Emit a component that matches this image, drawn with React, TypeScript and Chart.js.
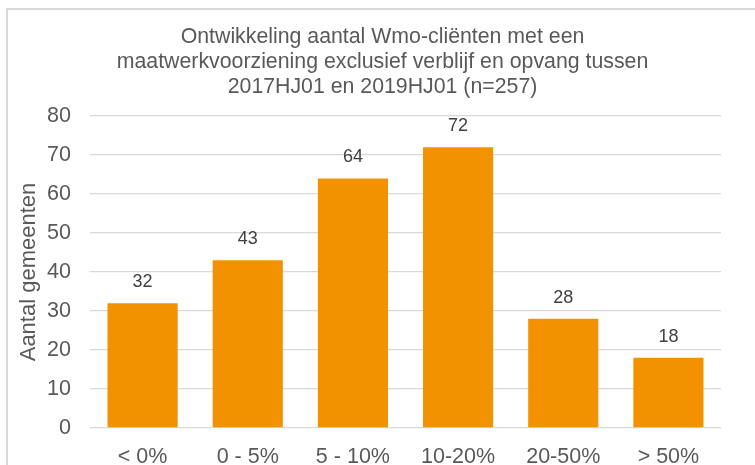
import React, { useEffect, useRef } from "react";
import { Chart, registerables } from "chart.js";

Chart.register(...registerables);

const categories = ["< 0%", "0 - 5%", "5 - 10%", "10-20%", "20-50%", "> 50%"];
const values = [32, 43, 64, 72, 28, 18];
const titleLines = [
  "Ontwikkeling aantal Wmo-cliënten met een",
  "maatwerkvoorziening exclusief verblijf en opvang tussen",
  "2017HJ01 en 2019HJ01 (n=257)",
];
const yAxisTitle = "Aantal gemeenten";

const FONT = "'Liberation Sans', Arial, sans-serif";
const TEXT = "#595959";

const frame = {
  id: "frame",
  beforeDraw(chart: any) {
    const ctx = chart.ctx;
    ctx.save();
    ctx.fillStyle = "#ffffff";
    ctx.fillRect(0, 0, chart.width, chart.height);
    ctx.fillStyle = "#d9d9d9";
    ctx.fillRect(6, 8, chart.width - 6, 2);
    ctx.fillRect(6, 8, 2, chart.height - 8);
    ctx.restore();
  },
};

const titleDraw = {
  id: "titleDraw",
  afterDraw(chart: any) {
    const ctx = chart.ctx;
    ctx.save();
    ctx.font = `21.3px ${FONT}`;
    ctx.fillStyle = TEXT;
    ctx.textAlign = "center";
    ctx.textBaseline = "middle";
    titleLines.forEach((line, i) => {
      ctx.fillText(line, 382.5, 37.5 + i * 25);
    });
    ctx.restore();
  },
};

const dataLabels = {
  id: "dataLabels",
  afterDatasetsDraw(chart: any) {
    const ctx = chart.ctx;
    const meta = chart.getDatasetMeta(0);
    ctx.save();
    ctx.font = `18px ${FONT}`;
    ctx.fillStyle = "#404040";
    ctx.textAlign = "center";
    ctx.textBaseline = "middle";
    meta.data.forEach((bar: any, i: number) => {
      ctx.fillText(String(values[i]), bar.x, bar.y - 21);
    });
    ctx.restore();
  },
};

export default function App() {
  const ref = useRef<HTMLCanvasElement>(null);
  useEffect(() => {
    if (!ref.current) return;
    const chart = new Chart(ref.current, {
      type: "bar",
      data: {
        labels: categories,
        datasets: [
          {
            data: values,
            backgroundColor: "#F39200",
            borderWidth: 0,
            barPercentage: 0.667,
            categoryPercentage: 1,
          },
        ],
      },
      options: {
        responsive: false,
        animation: false,
        devicePixelRatio: 1,
        layout: { padding: { left: 16, right: 34, top: 116, bottom: 0 } },
        plugins: {
          legend: { display: false },
          tooltip: { enabled: false },
          title: { display: false },
        },
        scales: {
          x: {
            grid: { display: false },
            border: { display: false },
            ticks: {
              color: TEXT,
              font: { family: FONT, size: 21.5 },
              padding: 8,
              maxRotation: 0,
            },
            afterFit: (s: any) => {
              s.height = 37;
            },
          },
          y: {
            min: 0,
            max: 80,
            ticks: {
              stepSize: 10,
              color: TEXT,
              font: { family: FONT, size: 21.5 },
              padding: 19,
            },
            grid: { color: "#d9d9d9", lineWidth: 1.3, drawTicks: false },
            border: { display: false },
            title: {
              display: true,
              text: yAxisTitle,
              color: TEXT,
              font: { family: FONT, size: 22 },
              padding: 0,
            },
            afterFit: (s: any) => {
              s.width = 74;
            },
          },
        },
      },
      plugins: [frame, dataLabels, titleDraw],
    });
    return () => chart.destroy();
  }, []);
  return (
    <div style={{ position: "fixed", left: 0, top: 0, width: 755, height: 465 }}>
      <canvas ref={ref} width={755} height={465} style={{ display: "block" }} />
    </div>
  );
}
